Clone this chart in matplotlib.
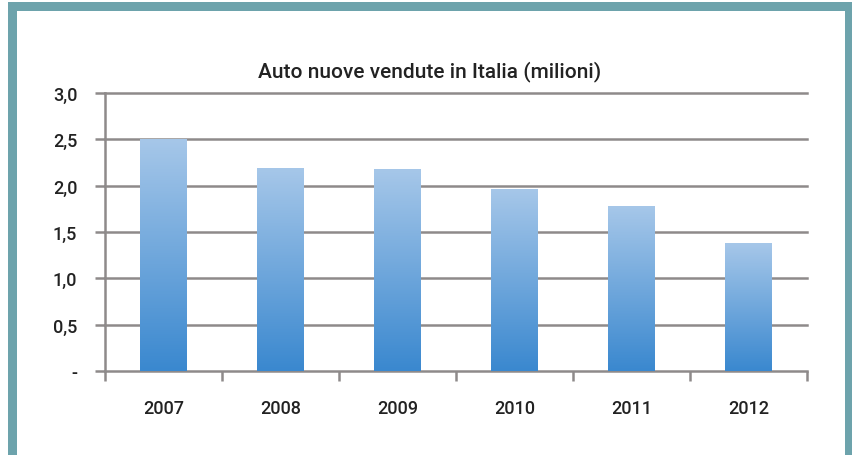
"""Bar chart: new cars sold in Italy per year, in millions."""

import matplotlib

matplotlib.use("Agg")
import matplotlib.pyplot as plt  # noqa: E402
import numpy as np  # noqa: E402
from matplotlib.colors import LinearSegmentedColormap  # noqa: E402
from matplotlib.patches import Rectangle  # noqa: E402

years = ["2007", "2008", "2009", "2010", "2011", "2012"]
sales = [2.50, 2.19, 2.17, 1.96, 1.77, 1.38]
yticks = [0, 0.5, 1.0, 1.5, 2.0, 2.5, 3.0]
ytick_labels = ["-", "0,5", "1,0", "1,5", "2,0", "2,5", "3,0"]
title = "Auto nuove vendute in Italia (milioni)"

plt.rcParams["font.family"] = ["Roboto", "DejaVu Sans"]

W, H = 853, 456
fig = plt.figure(figsize=(W / 100, H / 100), dpi=100)
fig.patch.set_facecolor("white")

# teal frame on top, left and right
teal = "#6da3ac"
for x0, y0, w, h in [(8, 3, 845, 9), (8, 3, 9, H), (845, 3, 8, H)]:
    fig.patches.append(Rectangle((x0 / W, 1 - (y0 + h) / H), w / W, h / H,
                                 transform=fig.transFigure, facecolor=teal,
                                 edgecolor="none", zorder=0))

ax = fig.add_axes([105 / W, 84 / H, 702 / W, 278 / H])
ax.set_facecolor("none")

grid_col = "#8e8a8a"
x = np.arange(len(years))

for y in yticks:
    ax.axhline(y, color=grid_col, lw=1.8, zorder=1, clip_on=False)

# vertical gradient fill for each bar
cmap = LinearSegmentedColormap.from_list("bars", ["#3a88cf", "#a6c7e9"])
grad = np.linspace(0, 1, 256).reshape(-1, 1)
bw = 0.4
for xi, v in zip(x, sales):
    ax.imshow(grad, extent=[xi - bw / 2, xi + bw / 2, 0, v], origin="lower",
              aspect="auto", cmap=cmap, zorder=2)
ax.set_xlim(-0.5, len(years) - 0.5)
ax.set_ylim(0, 3.0)

for s in ["top", "right", "bottom"]:
    ax.spines[s].set_visible(False)
ax.spines["left"].set_color(grid_col)
ax.spines["left"].set_linewidth(1.8)
ax.spines["left"].set_zorder(3)

label_kw = dict(labelsize=13, labelcolor="#222222")
ax.set_yticks(yticks)
ax.set_yticklabels(ytick_labels, fontweight="medium")
ax.tick_params(axis="y", length=7, width=1.8, color=grid_col, pad=13, **label_kw)

ax.set_xticks(np.arange(-0.5, len(years), 1.0))
ax.set_xticklabels([])
ax.set_xticks(x, minor=True)
ax.set_xticklabels(years, minor=True, fontweight="medium")
ax.tick_params(axis="x", which="major", length=7, width=1.8, color=grid_col)
ax.tick_params(axis="x", which="minor", length=0, pad=20, **label_kw)

fig.text(430 / W, 1 - 72 / H, title, ha="center", va="center",
         fontsize=15, fontweight="medium", color="#222222")

fig.savefig("out.png", dpi=100)
